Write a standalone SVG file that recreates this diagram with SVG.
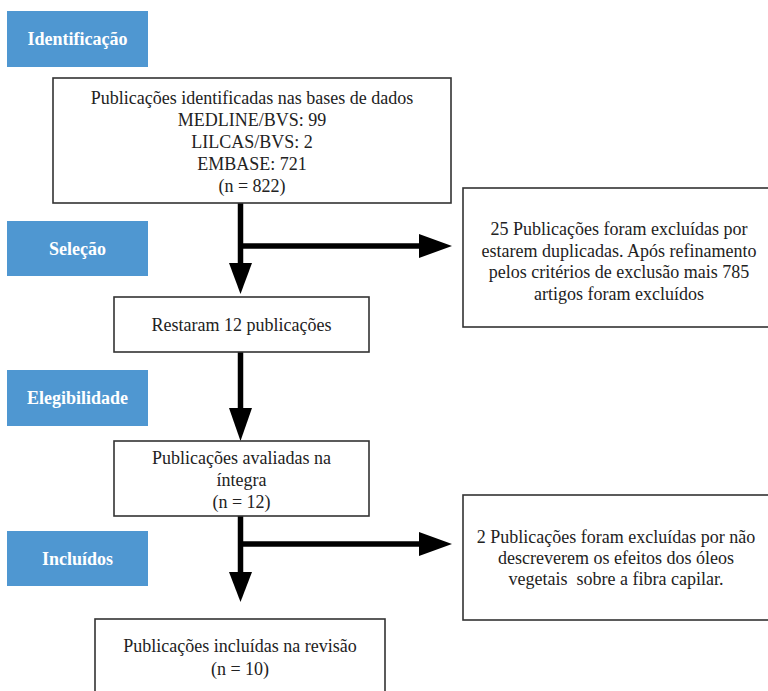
<svg xmlns="http://www.w3.org/2000/svg" width="768" height="691" viewBox="0 0 768 691">
<style>
.lbl rect{fill:#4F97D1}
.lbl text{font-family:"Liberation Serif",serif;font-size:18px;font-weight:bold;fill:#fff;text-anchor:middle}
.box rect{fill:#fff;stroke:#333;stroke-width:1.6}
.box text{font-family:"Liberation Serif",serif;font-size:18px;fill:#222;text-anchor:middle}
.con line{stroke:#000;stroke-width:5.5}
.con polygon{fill:#000}
</style>
<rect width="768" height="691" fill="#fff"/>
<g id="lbl-identificacao" class="lbl"><rect x="7" y="11" width="141" height="56"/><text x="77.5" y="45">Identificação</text></g>
<g id="lbl-selecao" class="lbl"><rect x="7" y="221" width="141" height="55"/><text x="77.5" y="255">Seleção</text></g>
<g id="lbl-elegibilidade" class="lbl"><rect x="7" y="370" width="141" height="56"/><text x="77.5" y="404">Elegibilidade</text></g>
<g id="lbl-incluidos" class="lbl"><rect x="7" y="531" width="141" height="55"/><text x="77.5" y="565">Incluídos</text></g>
<g id="connectors" class="con">
<line x1="240.5" y1="203" x2="240.5" y2="265"/>
<line x1="240.5" y1="246" x2="421" y2="246"/>
<polygon points="229,263 252,263 240.5,294"/>
<polygon points="419,234 419,258 452,246"/>
<line x1="240.5" y1="352" x2="240.5" y2="410"/>
<polygon points="229,408 252,408 240.5,441"/>
<line x1="240.5" y1="516" x2="240.5" y2="574"/>
<line x1="240.5" y1="544" x2="421" y2="544"/>
<polygon points="229,572 252,572 240.5,602"/>
<polygon points="419,532 419,556 452,544"/>
</g>
<g id="n-identificadas" class="box"><rect x="53" y="78" width="398" height="125"/>
<text x="252" y="104">Publicações identificadas nas bases de dados</text>
<text x="252" y="126">MEDLINE/BVS: 99</text>
<text x="252" y="148">LILCAS/BVS: 2</text>
<text x="252" y="170">EMBASE: 721</text>
<text x="252" y="192">(n = 822)</text></g>
<g id="n-excluidas1" class="box"><rect x="463" y="188" width="312" height="139"/>
<text x="619" y="235">25 Publicações foram excluídas por</text>
<text x="619" y="256.5">estarem duplicadas. Após refinamento</text>
<text x="619" y="278">pelos critérios de exclusão mais 785</text>
<text x="619" y="299.5">artigos foram excluídos</text></g>
<g id="n-restaram" class="box"><rect x="114" y="297" width="255" height="55"/>
<text x="241.5" y="331">Restaram 12 publicações</text></g>
<g id="n-avaliadas" class="box"><rect x="114" y="441" width="255" height="75"/>
<text x="241.5" y="464">Publicações avaliadas na</text>
<text x="241.5" y="486">íntegra</text>
<text x="241.5" y="508">(n = 12)</text></g>
<g id="n-excluidas2" class="box"><rect x="463" y="495" width="312" height="125"/>
<text x="616" y="543">2 Publicações foram excluídas por não</text>
<text x="616" y="564">descreverem os efeitos dos óleos</text>
<text x="616" y="585" style="white-space:pre">vegetais  sobre a fibra capilar.</text></g>
<g id="n-incluidas" class="box"><rect x="95" y="619" width="290" height="80"/>
<text x="240" y="652">Publicações incluídas na revisão</text>
<text x="240" y="675">(n = 10)</text></g>
</svg>
